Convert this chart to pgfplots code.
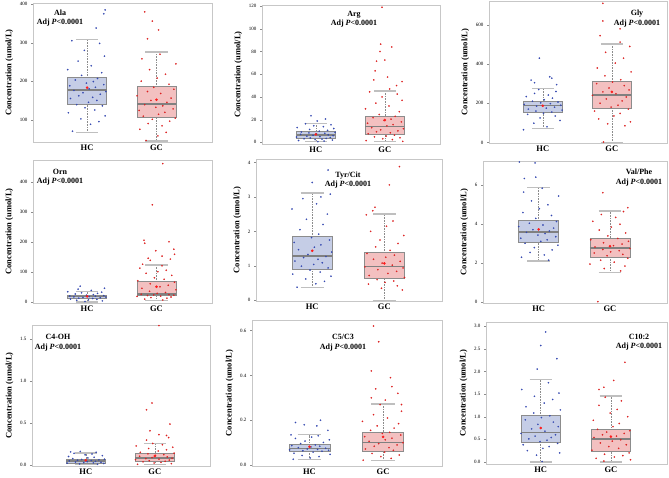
\documentclass[border=0pt]{standalone}
\usepackage{fontspec}
\setmainfont{Liberation Serif}
\usepackage{pgfplots}
\pgfplotsset{compat=1.18}

\definecolor{hcfill}{HTML}{C5CDE6}
\definecolor{hcpt}{HTML}{3448B0}
\definecolor{gcfill}{HTML}{F3C0C0}
\definecolor{gcpt}{HTML}{DC2020}
\definecolor{meanred}{HTML}{FF1A1A}

\pgfplotsset{
  panel/.style={
    scale only axis, anchor=north west,
    xmin=0.22, xmax=2.8, xtick={1,2}, xticklabels={HC,GC},
    axis line style={black!22}, ytick pos=left, tick align=outside,
    major tick length=2pt, ytick style={black!45}, xtick style={draw=none},
    /pgf/number format/assume math mode=true,
    tick label style={font=\fontsize{5}{6}\selectfont},
    xticklabel style={font=\bfseries\fontsize{8.5}{10}\selectfont, inner sep=1pt},
    ylabel={Concentration (umol/L)},
    ylabel style={font=\bfseries\fontsize{8.5}{10}\selectfont},
  },
  whisk/.style={no marks, black!45, densely dotted, line width=0.6pt},
  cap/.style={no marks, black!25, line width=1.5pt},
  med/.style={no marks, black!50, line width=1.3pt},
  hcdots/.style={only marks, color=hcpt, mark=*, mark size=0.7pt, mark options={line width=0.2pt, draw=hcpt, fill=hcpt}},
  gcdots/.style={only marks, color=gcpt, mark=*, mark size=0.7pt, mark options={line width=0.2pt, draw=gcpt, fill=gcpt}},
  meandot/.style={only marks, color=meanred, mark=*, mark size=1.1pt, mark options={draw=meanred, fill=meanred}},
}
% box: lower whisker, Q1, median, Q3, upper whisker
\newcommand{\hcb}[5]{%
  \addplot[whisk] coordinates {(1,#1) (1,#2)};
  \addplot[whisk] coordinates {(1,#4) (1,#5)};
  \addplot[cap] coordinates {(0.84,#1) (1.16,#1)};
  \addplot[cap] coordinates {(0.84,#5) (1.16,#5)};
  \addplot[no marks, draw=black!45, fill=hcfill, line width=0.6pt] coordinates {(0.72,#2) (1.28,#2) (1.28,#4) (0.72,#4)} -- cycle;
  \addplot[med] coordinates {(0.72,#3) (1.28,#3)};
}
\newcommand{\gcb}[5]{%
  \addplot[whisk] coordinates {(2,#1) (2,#2)};
  \addplot[whisk] coordinates {(2,#4) (2,#5)};
  \addplot[cap] coordinates {(1.84,#1) (2.16,#1)};
  \addplot[cap] coordinates {(1.84,#5) (2.16,#5)};
  \addplot[no marks, draw=black!45, fill=gcfill, line width=0.6pt] coordinates {(1.72,#2) (2.28,#2) (2.28,#4) (1.72,#4)} -- cycle;
  \addplot[med] coordinates {(1.72,#3) (2.28,#3)};
}
\newcommand{\ptitle}[3]{\node[font=\bfseries\fontsize{8}{9.5}\selectfont, align=center] at (#1pt,-#2pt) {#3\\Adj \textit{P}<0.0001};}

\begin{document}
\begin{tikzpicture}
\useasboundingbox (0,0) rectangle (669pt,-477pt);

% ---- Ala
\begin{axis}[panel, at={(33pt,-3pt)}, width=179pt, height=139pt,
  ymin=42, ymax=403, ytick={100,200,300,400}]
\hcb{67}{141}{177}{210}{308}
\gcb{44}{106}{141}{186}{276}
\addplot[hcdots] coordinates {
(0.79,70) (1.05,88) (1.17,95) (0.91,102) (1.26,110) (0.73,118) (1.11,125) (0.97,131) (1.22,136) (0.85,139)
(1.02,145) (1.14,150) (0.76,155) (1.08,158) (0.88,162) (1.19,166) (0.94,170) (1.27,173) (0.81,176)
(1.03,180) (1.12,184) (0.75,188) (1.24,191) (0.99,195) (1.09,199) (0.83,203) (1.15,207)
(0.92,215) (1.21,222) (0.72,230) (1.06,240) (0.87,252) (1.25,265) (0.96,280) (1.18,298) (0.78,305)
(1.13,338) (1.24,375) (1.26,385)};
\addplot[gcdots] coordinates {
(1.85,46) (2.02,58) (2.14,67) (1.76,75) (2.08,84) (1.88,90) (2.19,96) (1.94,101) (2.27,104)
(1.81,109) (2.03,114) (2.12,119) (1.75,124) (2.24,128) (1.99,132) (2.09,136) (1.83,139)
(2.15,145) (1.92,150) (2.21,156) (1.72,162) (2.06,168) (1.87,173) (2.25,179) (1.96,184)
(2.18,192) (1.78,200) (2.01,208) (2.13,218) (1.9,230) (2.28,245) (1.79,258) (2.05,270)
(1.83,380) (1.94,356) (2.03,333) (1.87,310)};
\addplot[meandot] coordinates {(1,183) (2,152)};
\end{axis}
\ptitle{60}{18}{Ala}

% ---- Arg
\begin{axis}[panel, at={(262pt,-5pt)}, width=178pt, height=139pt,
  ymin=-1.5, ymax=121, ytick={0,20,40,60,80,100,120}]
\hcb{0.5}{3.5}{6.4}{9.3}{16.7}
\gcb{0.5}{7}{13.7}{23.3}{45}
\addplot[hcdots] coordinates {
(1.03,0.6) (1.12,1.1) (0.75,1.6) (1.24,2.0) (0.99,2.4) (1.09,2.8) (0.83,3.1) (1.15,3.4)
(0.92,3.8) (1.21,4.2) (0.72,4.6) (1.06,5.0) (0.87,5.4) (1.25,5.8) (0.96,6.2)
(1.18,6.6) (0.78,7.0) (1.01,7.4) (1.13,7.9) (0.9,8.3) (1.28,8.8) (0.79,9.1)
(1.05,9.8) (1.17,10.5) (0.91,11.3) (1.26,12.1) (0.73,13.0) (1.11,13.8) (0.97,14.6) (1.22,15.5) (0.85,16.4)
(1.02,18.8) (1.14,20.5) (0.93,23.4)};
\addplot[gcdots] coordinates {
(2.26,0.8) (1.73,1.5) (2.11,2.4) (1.97,3.1) (2.22,4.0) (1.85,4.8) (2.02,5.5) (2.14,6.3)
(1.76,7.5) (2.08,8.4) (1.88,9.3) (2.19,10.1) (1.94,11.0) (2.27,12.0) (1.81,12.9)
(2.03,14.5) (2.12,15.6) (1.75,16.8) (2.24,18.0) (1.99,19.2) (2.09,20.4) (1.83,21.7) (2.15,22.9)
(1.92,24.5) (2.21,27) (1.72,29.5) (2.06,32) (1.87,34.5) (2.25,37) (1.96,40) (2.18,42.5) (1.78,44.5)
(1.96,119) (1.94,86.5) (2.1,84) (1.93,80) (1.88,71.5) (2.0,72.5) (1.86,63) (2.04,57.5) (1.84,55) (2.25,53.5) (2.17,50) (2.07,47)};
\addplot[meandot] coordinates {(1,7) (2,19.6)};
\end{axis}
\ptitle{354}{19}{Arg}

% ---- Gly
\begin{axis}[panel, at={(489pt,-1pt)}, width=178pt, height=142pt,
  ymin=-3, ymax=722, ytick={0,200,400,600}]
\hcb{71}{152}{187}{212}{274}
\gcb{0}{175}{242}{310}{503}
\addplot[hcdots] coordinates {
(0.72,65) (1.06,80) (0.87,98) (1.25,112) (0.96,125) (1.18,135) (0.78,143) (1.01,149)
(1.13,155) (0.9,160) (1.28,165) (0.79,170) (1.05,175) (1.17,180) (0.91,185)
(1.26,190) (0.73,194) (1.11,198) (0.97,202) (1.22,206) (0.85,210)
(1.02,218) (1.14,226) (0.76,234) (1.08,242) (0.88,250) (1.19,260) (0.94,270)
(0.95,430) (1.1,335) (1.13,328) (0.83,318) (0.88,305) (1.2,295)};
\addplot[gcdots] coordinates {
(1.88,2) (2.19,85) (1.94,95) (2.27,105) (1.81,120) (2.03,135) (2.12,148) (1.75,160) (2.24,170)
(1.99,180) (2.09,190) (1.83,200) (2.15,212) (1.92,222) (2.21,232) (1.72,240)
(2.06,248) (1.87,258) (2.25,268) (1.96,278) (2.18,290) (1.78,300) (2.01,308)
(2.13,320) (1.9,340) (2.28,360) (1.79,380) (2.05,405) (2.17,430) (1.91,460) (2.26,490)
(1.87,710) (1.87,620) (2.12,580) (1.83,545) (2.12,512)};
\addplot[meandot] coordinates {(1,187) (2,258)};
\end{axis}
\ptitle{637}{18.5}{Gly}

% ---- Orn
\begin{axis}[panel, at={(33pt,-160pt)}, width=179pt, height=143pt,
  ymin=-4, ymax=472, ytick={0,100,200,300,400}]
\hcb{0}{10}{17}{21}{34}
\gcb{5}{20}{26}{67}{123}
\addplot[hcdots] coordinates {
(0.97,1) (1.22,3) (0.85,5) (1.02,6.5) (1.14,8) (0.76,9)
(1.08,11) (0.88,12) (1.19,13.5) (0.94,14.5) (1.27,15.5) (0.81,16.5)
(1.03,17.5) (1.12,18.5) (0.75,19.5) (1.24,20.5)
(0.99,22) (1.09,24) (0.83,26) (1.15,28) (0.92,30) (1.21,32) (0.72,33.5)
(1.06,38) (0.87,42) (1.25,45) (0.9,52)};
\addplot[gcdots] coordinates {
(2.09,6) (1.83,9) (2.15,12) (1.92,14) (2.21,16) (1.72,18) (2.06,19)
(1.87,21) (2.25,22) (1.96,23) (2.18,24) (1.78,25)
(2.01,28) (2.13,31) (1.9,35) (2.28,40) (1.79,45) (2.05,50) (2.17,55) (1.91,60) (2.26,65)
(1.73,70) (2.11,75) (1.97,80) (2.22,88) (1.85,95) (2.02,100) (2.14,105) (1.76,112) (2.08,120)
(2.09,460) (1.94,323) (1.82,205) (1.83,195) (2.18,200) (2.25,175) (2.26,158) (1.99,170) (2.08,152) (1.88,145) (2.2,142) (1.91,138) (1.8,125)};
\addplot[meandot] coordinates {(1,18) (2,50)};
\end{axis}
\ptitle{60}{177}{Orn}

% ---- Tyr/Cit
\begin{axis}[panel, at={(256pt,-159pt)}, width=186pt, height=142pt,
  ymin=-0.02, ymax=4.1, ytick={0,1,2,3,4}]
\hcb{0.37}{0.91}{1.29}{1.85}{3.12}
\gcb{0}{0.63}{0.98}{1.39}{2.51}
\addplot[hcdots] coordinates {
(0.79,0.38) (1.05,0.48) (1.17,0.55) (0.91,0.62) (1.26,0.7) (0.73,0.76) (1.11,0.82) (0.97,0.88)
(1.22,0.94) (0.85,0.99) (1.02,1.04) (1.14,1.09) (0.76,1.14) (1.08,1.19) (0.88,1.24) (1.19,1.27)
(0.94,1.33) (1.27,1.4) (0.81,1.47) (1.03,1.54) (1.12,1.61) (0.75,1.68) (1.24,1.75) (0.99,1.82)
(1.09,1.92) (0.83,2.05) (1.15,2.2) (0.92,2.35) (1.21,2.5) (0.72,2.65) (1.06,2.8) (0.87,2.95) (1.25,3.08)
(1.22,3.78) (1.0,3.42) (1.12,3.0)};
\addplot[gcdots] coordinates {
(2.25,0.3) (1.96,0.35) (2.18,0.42) (1.78,0.47) (2.01,0.52) (2.13,0.56) (1.9,0.6)
(2.28,0.66) (1.79,0.72) (2.05,0.78) (2.17,0.84) (1.91,0.89) (2.26,0.94) (1.73,0.97)
(2.11,1.02) (1.97,1.08) (2.22,1.13) (1.85,1.19) (2.02,1.25) (2.14,1.31) (1.76,1.36)
(2.08,1.45) (1.88,1.55) (2.19,1.65) (1.94,1.75) (2.27,1.88) (1.81,2.0) (2.03,2.15) (2.12,2.3) (1.75,2.48)
(2.21,3.88) (2.07,3.35) (1.87,2.7) (1.84,2.6)};
\addplot[meandot] coordinates {(1,1.44) (2,1.07)};
\end{axis}
\ptitle{348}{180}{Tyr/Cit}

% ---- Val/Phe
\begin{axis}[panel, at={(483pt,-161pt)}, width=184pt, height=142pt,
  ymin=-0.05, ymax=7.25, ytick={0,2,4,6}]
\hcb{2.12}{3.07}{3.6}{4.19}{5.88}
\gcb{1.53}{2.32}{2.78}{3.3}{4.67}
\addplot[hcdots] coordinates {
(1.14,2.15) (0.76,2.3) (1.08,2.42) (0.88,2.55) (1.19,2.68) (0.94,2.8) (1.27,2.92) (0.81,3.02)
(1.03,3.12) (1.12,3.2) (0.75,3.28) (1.24,3.36) (0.99,3.44) (1.09,3.52) (0.83,3.58)
(1.15,3.65) (0.92,3.72) (1.21,3.8) (0.72,3.88) (1.06,3.96) (0.87,4.05) (1.25,4.14)
(0.96,4.3) (1.18,4.45) (0.78,4.6) (1.01,4.8) (1.13,5.0) (0.9,5.2) (1.28,5.45) (0.79,5.65) (1.05,5.85)
(0.73,7.2) (0.95,7.15) (0.96,6.42) (0.8,6.35)};
\addplot[gcdots] coordinates {
(2.15,1.6) (1.92,1.72) (2.21,1.85) (1.72,1.95) (2.06,2.05) (1.87,2.15) (2.25,2.25)
(1.96,2.38) (2.18,2.45) (1.78,2.52) (2.01,2.58) (2.13,2.64) (1.9,2.7) (2.28,2.75)
(1.79,2.83) (2.05,2.9) (2.17,2.98) (1.91,3.05) (2.26,3.12) (1.73,3.2) (2.11,3.27)
(1.97,3.4) (2.22,3.55) (1.85,3.7) (2.02,3.85) (2.14,4.0) (1.76,4.15) (2.08,4.35) (1.88,4.5) (2.19,4.65)
(1.9,5.62) (2.25,4.85) (1.83,0.02)};
\addplot[meandot] coordinates {(1,3.73) (2,2.87)};
\end{axis}
\ptitle{639}{177.5}{Val/Phe}

% ---- C4-OH
\begin{axis}[panel, at={(32pt,-325pt)}, width=178pt, height=141pt,
  ymin=-0.008, ymax=1.667, ytick={0,0.5,1,1.5}, yticklabels={0.0,0.5,1.0,1.5}]
\hcb{0.01}{0.03}{0.05}{0.075}{0.145}
\gcb{0.01}{0.05}{0.087}{0.146}{0.262}
\addplot[hcdots] coordinates {
(1.17,0.012) (0.91,0.018) (1.26,0.022) (0.73,0.026) (1.11,0.029)
(0.97,0.032) (1.22,0.036) (0.85,0.04) (1.02,0.043) (1.14,0.047)
(0.76,0.053) (1.08,0.057) (0.88,0.061) (1.19,0.065) (0.94,0.07) (1.27,0.073)
(0.81,0.08) (1.03,0.088) (1.12,0.096) (0.75,0.105) (1.24,0.115) (0.99,0.125) (1.09,0.135) (0.83,0.143)
(1.15,0.155) (0.92,0.165) (0.78,0.16)};
\addplot[gcdots] coordinates {
(1.75,0.012) (2.24,0.02) (1.99,0.028) (2.09,0.035) (1.83,0.042) (2.15,0.048)
(1.92,0.055) (2.21,0.062) (1.72,0.068) (2.06,0.074) (1.87,0.08) (2.25,0.085)
(1.96,0.092) (2.18,0.1) (1.78,0.108) (2.01,0.118) (2.13,0.127) (1.9,0.137) (2.28,0.144)
(1.79,0.155) (2.05,0.17) (2.17,0.185) (1.91,0.2) (2.26,0.215) (1.73,0.23) (2.11,0.245) (1.97,0.26)
(2.06,1.66) (1.96,0.74) (1.88,0.66) (2.22,0.49) (1.93,0.41) (2.06,0.365) (2.17,0.355) (2.2,0.33) (1.88,0.3)};
\addplot[meandot] coordinates {(1,0.06) (2,0.11)};
\end{axis}
\ptitle{58}{342.5}{C4-OH}

% ---- C5/C3
\begin{axis}[panel, at={(252pt,-320pt)}, width=190pt, height=146pt,
  ymin=-0.004, ymax=0.647, ytick={0,0.2,0.4,0.6}, yticklabels={0.0,0.2,0.4,0.6}]
\hcb{0.025}{0.061}{0.073}{0.093}{0.136}
\gcb{0.02}{0.062}{0.102}{0.148}{0.273}
\addplot[hcdots] coordinates {
(0.78,0.026) (1.01,0.032) (1.13,0.038) (0.9,0.043) (1.28,0.048) (0.79,0.053) (1.05,0.058)
(1.17,0.062) (0.91,0.064) (1.26,0.066) (0.73,0.068) (1.11,0.07) (0.97,0.072)
(1.22,0.075) (0.85,0.078) (1.02,0.081) (1.14,0.084) (0.76,0.087) (1.08,0.09)
(0.88,0.096) (1.19,0.101) (0.94,0.107) (1.27,0.113) (0.81,0.119) (1.03,0.125) (1.12,0.131) (0.75,0.135)
(1.15,0.2) (0.81,0.19) (0.93,0.18) (1.1,0.175) (1.25,0.155)};
\addplot[gcdots] coordinates {
(1.73,0.022) (2.11,0.03) (1.97,0.038) (2.22,0.045) (1.85,0.052) (2.02,0.058)
(2.14,0.066) (1.76,0.072) (2.08,0.078) (1.88,0.084) (2.19,0.09) (1.94,0.096) (2.27,0.1)
(1.81,0.106) (2.03,0.113) (2.12,0.12) (1.75,0.127) (2.24,0.134) (1.99,0.141) (2.09,0.146)
(1.83,0.155) (2.15,0.165) (1.92,0.175) (2.21,0.185) (1.72,0.195) (2.06,0.21) (1.87,0.225) (2.25,0.24) (1.96,0.27)
(1.87,0.62) (1.94,0.55) (1.84,0.42) (2.1,0.39) (2.12,0.35) (1.9,0.34) (2.2,0.32) (1.84,0.3) (2.03,0.29) (2.25,0.27)};
\addplot[meandot] coordinates {(1,0.082) (2,0.126)};
\end{axis}
\ptitle{343}{342.5}{C5/C3}

% ---- C10:2
\begin{axis}[panel, at={(486pt,-322pt)}, width=181pt, height=142pt,
  ymin=-0.045, ymax=3.09, ytick={0,0.5,1,1.5,2,2.5,3}, yticklabels={0.0,0.5,1.0,1.5,2.0,2.5,3.0}]
\hcb{0}{0.43}{0.65}{1.03}{1.82}
\gcb{0}{0.23}{0.51}{0.725}{1.46}
\addplot[hcdots] coordinates {
(0.94,0.15) (1.27,0.2) (0.81,0.25) (1.03,0.3) (1.12,0.34) (0.75,0.38) (1.24,0.41)
(0.99,0.45) (1.09,0.48) (0.83,0.51) (1.15,0.54) (0.92,0.57) (1.21,0.6) (0.72,0.63)
(1.06,0.68) (0.87,0.73) (1.25,0.78) (0.96,0.83) (1.18,0.88) (0.78,0.93) (1.01,0.98) (1.13,1.02)
(0.9,1.08) (1.28,1.15) (0.79,1.22) (1.05,1.3) (1.17,1.38) (0.91,1.45) (1.26,1.52) (0.73,1.6) (1.11,1.75)
(1.07,2.87) (1.0,2.57) (1.23,2.28) (0.95,2.05) (1.02,0.01)};
\addplot[gcdots] coordinates {
(1.9,0.02) (2.28,0.05) (1.79,0.08) (2.05,0.11) (2.17,0.14) (1.91,0.17) (2.26,0.2)
(1.73,0.26) (2.11,0.3) (1.97,0.34) (2.22,0.38) (1.85,0.42) (2.02,0.46) (2.14,0.49)
(1.76,0.54) (2.08,0.57) (1.88,0.6) (2.19,0.63) (1.94,0.66) (2.27,0.69) (1.81,0.72)
(2.03,0.78) (2.12,0.85) (1.75,0.92) (2.24,1.0) (1.99,1.08) (2.09,1.16) (1.83,1.25) (2.15,1.35) (1.92,1.43)
(2.2,2.2) (2.04,1.8) (1.9,1.65) (1.83,1.6)};
\addplot[meandot] coordinates {(1,0.75) (2,0.56)};
\end{axis}
\ptitle{639}{342}{C10:2}
\end{tikzpicture}
\end{document}
